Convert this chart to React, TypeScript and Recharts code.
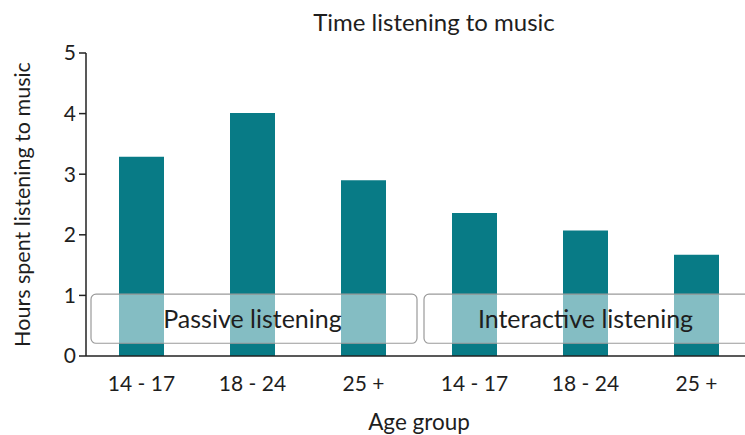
import React from "react"
import { BarChart, Bar, XAxis, YAxis, ReferenceArea } from "recharts"

// categories and values
const ageGroups = ["14 - 17", "18 - 24", "25 +", "14 - 17", "18 - 24", "25 +"]
const hours = [3.29, 4.01, 2.9, 2.36, 2.07, 1.67]
const yTicks = [0, 1, 2, 3, 4, 5]
const groups = [
  { name: "Passive listening", from: 0, to: 2 },
  { name: "Interactive listening", from: 3, to: 5 },
]

const TEAL = "#087b86"
const INK = "#1e1e1e"
const FONT = "Lato, 'Open Sans', sans-serif"

const data = ageGroups.map((g, i) => ({ idx: i, group: g, hours: hours[i] }))

function GroupBox(props: any) {
  const { x, y, width, height } = props
  return (
    <rect
      x={x + 5}
      y={y}
      width={width - 7}
      height={height}
      rx={5}
      ry={5}
      fill="#ffffff"
      fillOpacity={0.5}
      stroke="#9a9a9a"
      strokeWidth={1.2}
    />
  )
}

export default function App() {
  return (
    <div
      style={{
        position: "absolute",
        left: 0,
        top: 0,
        width: 745,
        height: 435,
        overflow: "hidden",
        background: "#fff",
        fontFamily: FONT,
      }}
    >
      <div
        style={{
          position: "absolute",
          top: 7,
          left: 284,
          width: 300,
          textAlign: "center",
          fontSize: 24,
          lineHeight: "30px",
          color: INK,
          whiteSpace: "nowrap",
        }}
      >
        Time listening to music
      </div>
      <BarChart
        width={770}
        height={435}
        data={data}
        margin={{ top: 53, right: 18, bottom: 0, left: 0 }}
        style={{ fontFamily: FONT }}
      >
        <YAxis
          width={86}
          domain={[0, 5]}
          ticks={yTicks}
          interval={0}
          axisLine={{ stroke: "#222", strokeWidth: 1.5 }}
          tickLine={{ stroke: "#222", strokeWidth: 1.5 }}
          tickSize={7}
          tickMargin={3}
          tick={{ fontSize: 21, fill: INK }}
          label={({ viewBox }: any) => (
            <text
              x={22}
              y={viewBox.y + viewBox.height / 2}
              transform={`rotate(-90, 22, ${viewBox.y + viewBox.height / 2})`}
              textAnchor="middle"
              dominantBaseline="central"
              fontSize={21.5}
              fill={INK}
            >
              Hours spent listening to music
            </text>
          )}
        />
        <XAxis
          dataKey="idx"
          type="category"
          height={79}
          interval={0}
          tickFormatter={(v: number) => ageGroups[v]}
          axisLine={{ stroke: "#222", strokeWidth: 1.5 }}
          tickLine={false}
          tickMargin={14}
          tick={{ fontSize: 21, fill: INK }}
          label={{
            value: "Age group",
            position: "insideBottom",
            offset: 5,
            fontSize: 22.5,
            fill: INK,
          }}
        />
        <Bar dataKey="hours" fill={TEAL} barSize={45} isAnimationActive={false} />
        {groups.map((g) => (
          <ReferenceArea
            key={g.name}
            x1={g.from}
            x2={g.to}
            y1={0.21}
            y2={1.02}
            ifOverflow="visible"
            zIndex={1000}
            shape={<GroupBox />}
            label={{
              value: g.name,
              position: "center",
              fontSize: 25,
              fill: INK,
            }}
          />
        ))}
      </BarChart>
    </div>
  )
}
